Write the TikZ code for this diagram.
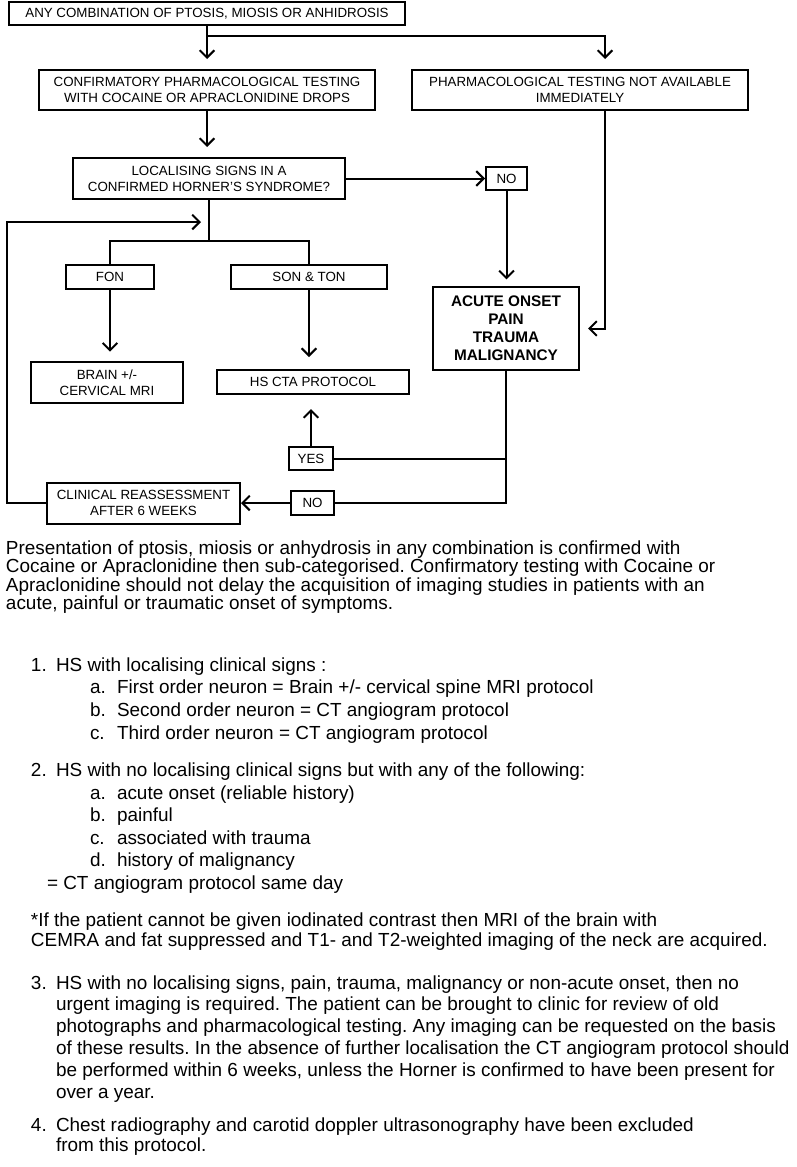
\documentclass[tikz,border=0pt]{standalone}
\usepackage{fontspec}
\setmainfont{Liberation Sans}
\usetikzlibrary{arrows.meta,shapes}
\frenchspacing

\tikzset{
  box/.style={shape=rectangle,draw=black,line width=1.5pt,inner sep=0pt,align=center,font=\fontsize{10}{12}\selectfont},
  txt/.style={anchor=base west,inner sep=0pt,align=left,font=\fontsize{14.2}{#1}\selectfont},
  txt/.default=16.9pt
}

\begin{document}
\begin{tikzpicture}[x=0.75pt,y=-0.75pt,->,>={Straight Barb[length=5.5pt,width=11pt]},line width=1.5pt]
                \useasboundingbox (0, 0) rectangle (796, 1167);
                \node[box,minimum width=297pt,minimum height=17.25pt](top)at(207, 13.5){ANY COMBINATION OF PTOSIS, MIOSIS OR ANHIDROSIS};
                \node[box,minimum width=252pt,minimum height=30pt](conf)at(207, 90){CONFIRMATORY PHARMACOLOGICAL TESTING\\WITH COCAINE OR APRACLONIDINE DROPS};
                \node[box,minimum width=252pt,minimum height=30pt](notavail)at(580, 90){PHARMACOLOGICAL TESTING NOT AVAILABLE\\IMMEDIATELY};
                \node[box,minimum width=204pt,minimum height=30.75pt](local)at(209, 178.5){LOCALISING SIGNS IN A\\CONFIRMED HORNER’S SYNDROME?};
                \node[box,minimum width=30.75pt,minimum height=17.25pt](no1)at(506.5, 178.5){NO};
                \node[box,minimum width=66pt,minimum height=18pt](fon)at(110, 277){FON};
                \node[box,minimum width=117pt,minimum height=18pt](son)at(309, 277){SON \& TON};
                \node[box,minimum width=114pt,minimum height=30.75pt](brain)at(107, 382.5){BRAIN +/-\\CERVICAL MRI};
                \node[box,minimum width=144pt,minimum height=18pt](cta)at(313, 382){HS CTA PROTOCOL};
                \node[box,minimum width=109.5pt,minimum height=62.25pt,font=\fontsize{11.5}{13.5}\selectfont\bfseries](acute)at(506, 328.5){ACUTE ONSET\\PAIN\\TRAUMA\\MALIGNANCY};
                \node[box,minimum width=33pt,minimum height=17.25pt](yes)at(311, 458.5){YES};
                \node[box,minimum width=32.25pt,minimum height=18pt](no2)at(312.5, 503){NO};
                \node[box,minimum width=144.75pt,minimum height=30.75pt](clin)at(143.5, 503){CLINICAL REASSESSMENT\\AFTER 6 WEEKS};
                \coordinate (split) at (605, 36);
                \coordinate (fork) at (208, 241);
                \coordinate (back) at (7, 222);
                \path (top) edge[shorten >=7.5pt] (conf)
                (conf) edge[shorten >=7.5pt] (conf |- local.north)
                (local) edge (no1)
                (no1) edge[shorten >=5pt] (no1 |- acute.north)
                (fon) edge[shorten >=7pt] (fon |- brain.north)
                (son) edge[shorten >=9pt] (son |- cta.north)
                (yes) edge[shorten >=10.5pt] (yes |- cta.south)
                (no2) edge (clin);
                \draw[shorten >=7.5pt] (top.south |- split) -- (split) -- (split |- notavail.north);
                \draw[shorten >=6pt] (split |- notavail.south) |- (acute.east);
                \draw[-] (local.south) -- (local.south |- fork);
                \draw[-] (fon) |- (fork) -| (son);
                \draw[-] (acute) |- (no2);
                \draw[-] (yes) -- (yes -| acute);
                \draw[shorten >=6pt] (clin) -| (back) -- (local.south |- back);
                \node[txt=13.9pt](intro)at(5, 609.6){Presentation of ptosis, miosis or anhydrosis in any combination is confirmed with\\Cocaine or Apraclonidine then sub-categorised. Confirmatory testing with Cocaine or\\Apraclonidine should not delay the acquisition of imaging studies in patients with an\\acute, painful or traumatic onset of symptoms.};
                \node[txt](n1)at(30, 671){1.};
                \node[txt](i1)at(55, 671){HS with localising clinical signs :};
                \node[txt](l1)at(89, 739){a.\\b.\\c.};
                \node[txt](s1)at(116, 739){First order neuron = Brain +/- cervical spine MRI protocol\\Second order neuron = CT angiogram protocol\\Third order neuron = CT angiogram protocol};
                \node[txt](n2)at(30, 776){2.};
                \node[txt](i2)at(55, 776){HS with no localising clinical signs but with any of the following:};
                \node[txt](l2)at(89, 866.6){a.\\b.\\c.\\d.};
                \node[txt](s2)at(116, 866.6){acute onset (reliable history)\\painful\\associated with trauma\\history of malignancy};
                \node[txt](same)at(46, 889){= CT angiogram protocol same day};
                \node[txt=15pt](foot)at(30, 946){*If the patient cannot be given iodinated contrast then MRI of the brain with\\CEMRA and fat suppressed and T1- and T2-weighted imaging of the neck are acquired.};
                \node[txt](n3)at(30, 989){3.};
                \node[txt=16.35pt](i3)at(55, 1098){HS with no localising signs, pain, trauma, malignancy or non-acute onset, then no\\urgent imaging is required. The patient can be brought to clinic for review of old\\photographs and pharmacological testing. Any imaging can be requested on the basis\\of these results. In the absence of further localisation the CT angiogram protocol should\\be performed within 6 weeks, unless the Horner is confirmed to have been present for\\over a year.};
                \node[txt](n4)at(30, 1131){4.};
                \node[txt=15pt](i4)at(55, 1151){Chest radiography and carotid doppler ultrasonography have been excluded\\from this protocol.};
            \end{tikzpicture}
\end{document}
